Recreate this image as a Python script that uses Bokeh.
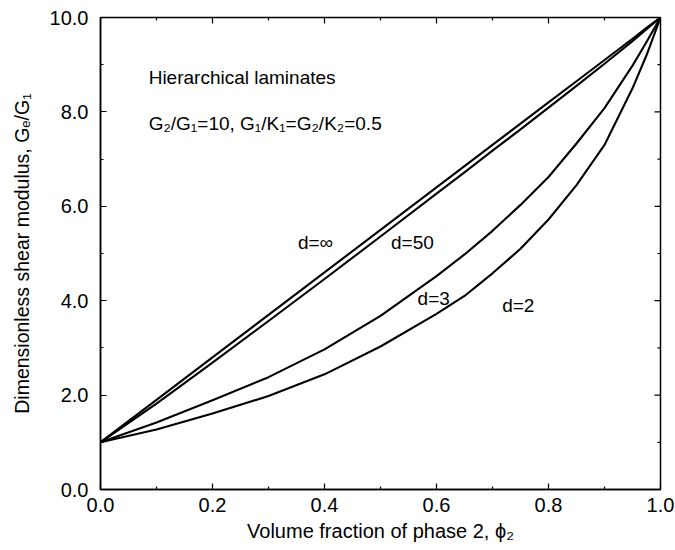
import math
from bokeh.plotting import figure
from bokeh.models import Range1d, FixedTicker, PrintfTickFormatter, ColumnDataSource
from bokeh.core.properties import value
from bokeh.embed import file_html
from bokeh.resources import INLINE

# ---- data ----
phi = [0.0, 0.1, 0.2, 0.3, 0.4, 0.5, 0.6, 0.65, 0.7, 0.75, 0.8, 0.85, 0.9, 0.95, 0.975, 1.0]
g_dinf = [1.0, 1.90, 2.80, 3.70, 4.60, 5.50, 6.40, 6.85, 7.30, 7.75, 8.20, 8.65, 9.10, 9.55, 9.78, 10.0]
g_d50 = [1.0, 1.82, 2.69, 3.57, 4.46, 5.36, 6.27, 6.72, 7.18, 7.63, 8.09, 8.55, 9.02, 9.50, 9.75, 10.0]
g_d3 = [1.0, 1.42, 1.89, 2.38, 2.97, 3.68, 4.52, 4.98, 5.48, 6.03, 6.62, 7.33, 8.08, 8.98, 9.48, 10.0]
g_d2 = [1.0, 1.27, 1.61, 1.98, 2.44, 3.03, 3.72, 4.10, 4.58, 5.10, 5.72, 6.45, 7.30, 8.50, 9.20, 10.0]

curve_labels = ["d=\u221e", "d=50", "d=3", "d=2"]
label_x = [0.384, 0.557, 0.595, 0.746]
label_y = [5.23, 5.23, 4.05, 3.90]

x_major = [0.0, 0.2, 0.4, 0.6, 0.8, 1.0]
x_minor = [0.1, 0.3, 0.5, 0.7, 0.9]
y_major = [0.0, 2.0, 4.0, 6.0, 8.0, 10.0]
y_minor = [1.0, 3.0, 5.0, 7.0, 9.0]

title_line1 = "Hierarchical laminates"
title_line2 = "G\u2082/G\u2081=10, G\u2081/K\u2081=G\u2082/K\u2082=0.5"
x_title = "Volume fraction of phase 2, \u03d5\u2082"
y_title = "Dimensionless shear modulus, G\u2091/G\u2081"

FONT = "Liberation Sans"

p = figure(width=675, height=550, output_backend="svg", toolbar_location=None,
           x_range=Range1d(0, 1), y_range=Range1d(0, 10),
           min_border_left=100, min_border_right=15, min_border_top=17, min_border_bottom=61)
p.background_fill_color = "white"
p.border_fill_color = "white"
p.grid.visible = False
p.outline_line_color = "black"
p.outline_line_width = 1.5

def style_axis(ax, ticker, title, title_size):
    ax.ticker = ticker
    ax.axis_line_color = "black"
    ax.axis_line_width = 1.5
    ax.major_tick_in = 6
    ax.major_tick_out = 0
    ax.minor_tick_in = 3
    ax.minor_tick_out = 0
    ax.major_tick_line_color = "black"
    ax.minor_tick_line_color = "black"
    ax.major_tick_line_width = 1.2
    ax.minor_tick_line_width = 1.2
    ax.major_label_text_font = FONT
    ax.axis_label_text_font = FONT
    ax.axis_label_text_font_style = "normal"
    ax.major_label_text_color = "black"
    ax.axis_label_text_color = "black"
    ax.formatter = PrintfTickFormatter(format="%.1f")
    ax.major_label_text_font_size = "20px"
    ax.axis_label_text_font_size = title_size
    ax.axis_label = title

xa = p.xaxis[0]
style_axis(xa, FixedTicker(ticks=x_major, minor_ticks=x_minor), x_title, "20px")
xa.major_label_standoff = 8
xa.axis_label_standoff = 5

ya = p.yaxis[0]
style_axis(ya, FixedTicker(ticks=y_major, minor_ticks=y_minor), y_title, "19.5px")
ya.major_label_standoff = 12
ya.axis_label_standoff = 14

# inward ticks on the top and right edges of the frame
p.ray(x=x_major, y=[10.0] * len(x_major), length=6, length_units="screen",
      angle=-math.pi / 2, line_color="black", line_width=1.2)
p.ray(x=x_minor, y=[10.0] * len(x_minor), length=3, length_units="screen",
      angle=-math.pi / 2, line_color="black", line_width=1.2)
p.ray(x=[1.0] * len(y_major), y=y_major, length=6, length_units="screen",
      angle=math.pi, line_color="black", line_width=1.2)
p.ray(x=[1.0] * len(y_minor), y=y_minor, length=3, length_units="screen",
      angle=math.pi, line_color="black", line_width=1.2)

for g in [g_dinf, g_d50, g_d3, g_d2]:
    p.line(phi, g, line_color="black", line_width=2.1, line_join="round")

src = ColumnDataSource(dict(x=label_x, y=label_y, t=curve_labels))
p.text(x="x", y="y", text="t", source=src, text_font=value(FONT), text_font_size="19px",
       text_color="black", text_align="center", text_baseline="middle")

p.text(x=[0.086], y=[8.73], text=[title_line1], text_font=value(FONT), text_font_size="19px",
       text_color="black", text_align="left", text_baseline="middle")
p.text(x=[0.086], y=[7.75], text=[title_line2], text_font=value(FONT), text_font_size="19px",
       text_color="black", text_align="left", text_baseline="middle")

open("out.html", "w").write(file_html(p, INLINE))
